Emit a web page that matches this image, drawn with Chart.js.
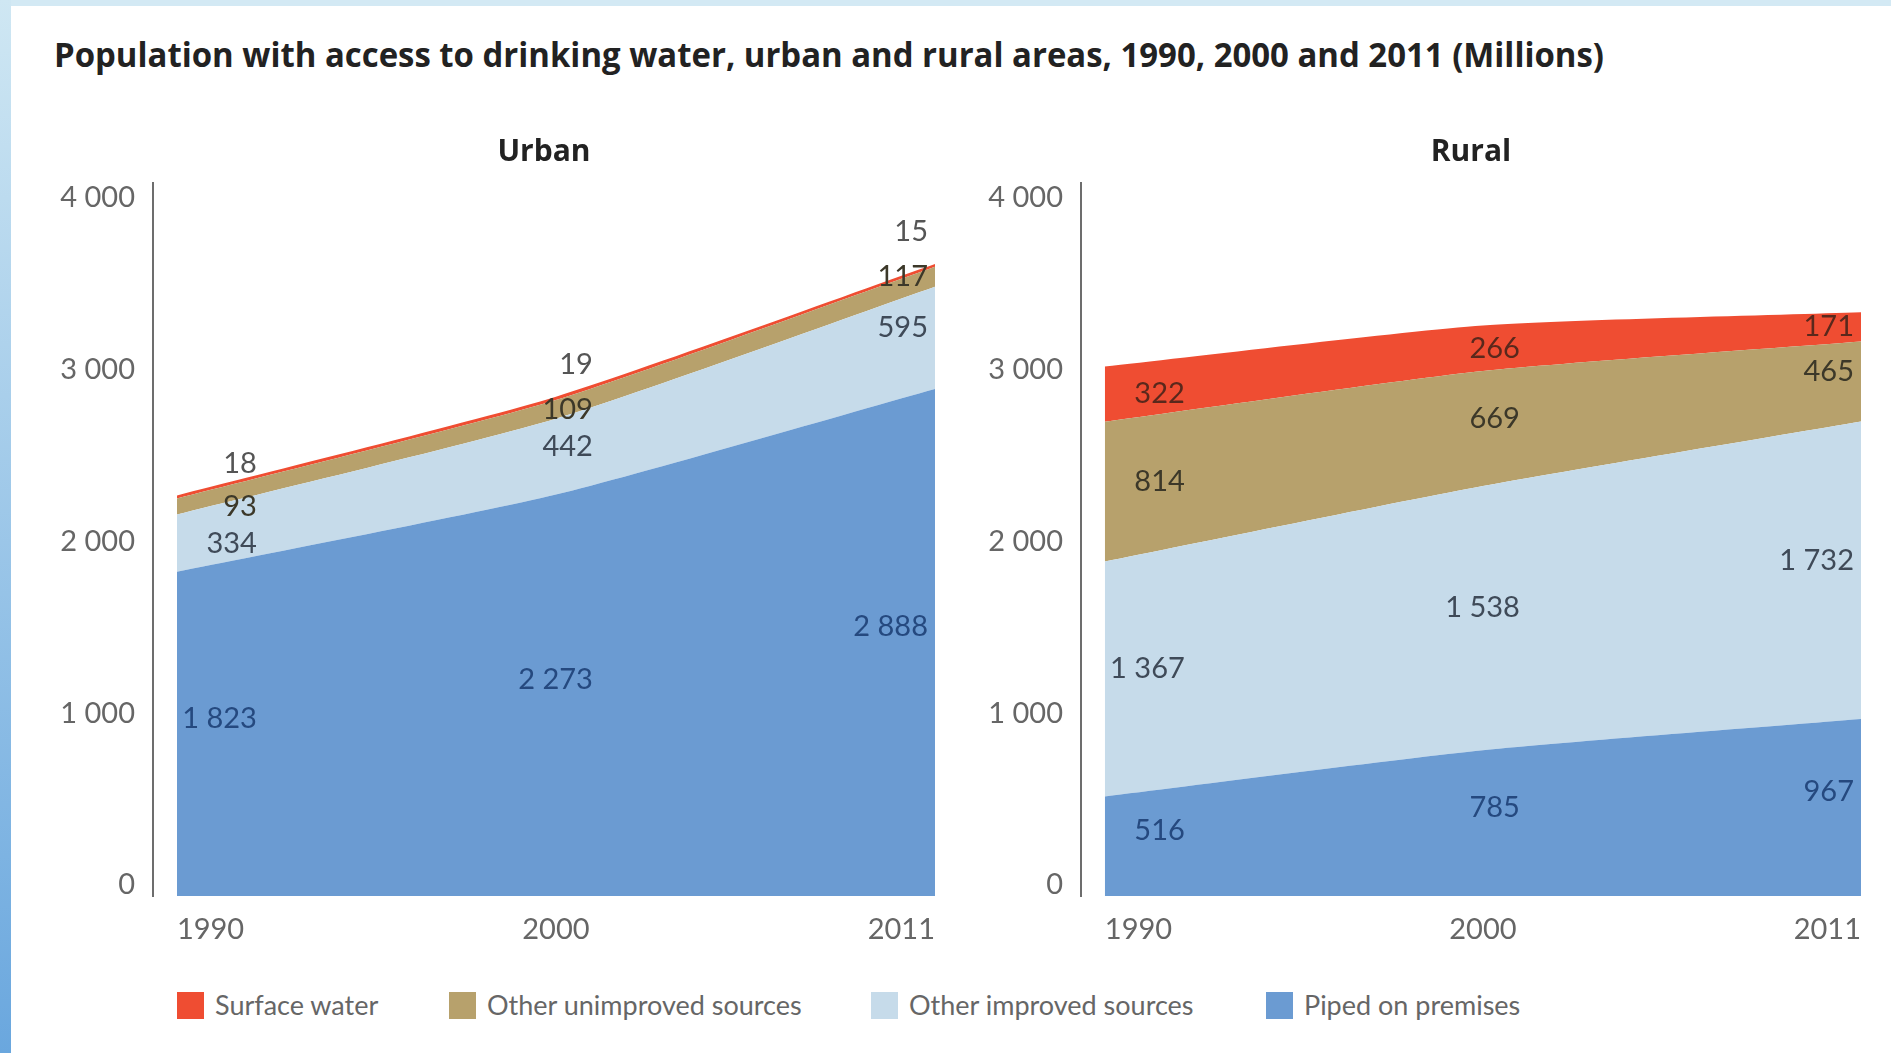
<!DOCTYPE html>
<html>
<head>
<meta charset="utf-8">
<script src="https://cdn.jsdelivr.net/npm/chart.js@4.4.1/dist/chart.umd.min.js"></script>
<style>
html, body { margin: 0; padding: 0; background: #fff; }
body { width: 1891px; height: 1053px; position: relative; overflow: hidden; font-family: Lato, sans-serif; }
#topbar { position: absolute; left: 0; top: 0; width: 1891px; height: 6px; background: #d3e9f4; }
#leftbar { position: absolute; left: 0; top: 0; width: 11px; height: 1053px; background: linear-gradient(#cfe7f3, #6aa7de); }
#title { position: absolute; left: 54px; top: 34px; font: 700 34px "Open Sans"; line-height: 40px; color: #222; white-space: nowrap; transform-origin: 0 0; }
canvas { position: absolute; top: 134px; }
#urban { left: 20px; }
#rural { left: 948px; }
.key { position: absolute; top: 992px; width: 27px; height: 27px; }
.keytext { position: absolute; top: 986px; font: 27px Lato; line-height: 38px; color: #666; white-space: nowrap; }
</style>
</head>
<body>
<div id="topbar"></div>
<div id="leftbar"></div>
<div id="title">Population with access to drinking water, urban and rural areas, 1990, 2000 and 2011 (Millions)</div>
<canvas id="urban" width="931" height="812"></canvas>
<canvas id="rural" width="929" height="812"></canvas>
<div id="legend"></div>
<script>
var years = ['1990', '2000', '2011'];
var seriesNames = ['Piped on premises', 'Other improved sources', 'Other unimproved sources', 'Surface water'];
var seriesColors = ['#6b9bd2', '#c6dbea', '#b7a16c', '#ef4d32'];
var labelColors = ['#25497f', '#3f4a58', '#3c3829', '#5a281c'];

// urban, millions
var urbanPiped = [1823, 2273, 2888];
var urbanImproved = [334, 442, 595];
var urbanUnimproved = [93, 109, 117];
var urbanSurface = [18, 19, 15];

// rural, millions
var ruralPiped = [516, 785, 967];
var ruralImproved = [1367, 1538, 1732];
var ruralUnimproved = [814, 669, 465];
var ruralSurface = [322, 266, 171];

var yTicks = [0, 1000, 2000, 3000, 4000];

function fmt(v) {
  return String(v).replace(/\B(?=(\d{3})+(?!\d))/g, ' ');
}

// value labels inside each band
var areaLabels = {
  id: 'areaLabels',
  afterDatasetsDraw: function(chart) {
    var ctx = chart.ctx;
    var y = chart.scales.y;
    var shift = [80, 37, -7];
    ctx.save();
    ctx.font = '29px Lato';
    ctx.textAlign = 'right';
    ctx.textBaseline = 'middle';
    chart.data.datasets.forEach(function(ds, i) {
      var meta = chart.getDatasetMeta(i);
      meta.data.forEach(function(pt, j) {
        var bottom = i == 0 ? y.getPixelForValue(0) : chart.getDatasetMeta(i - 1).data[j].y;
        var py = (pt.y + bottom) / 2;
        var color = labelColors[i];
        if (bottom - pt.y > 60) py -= 10;
        if (bottom - pt.y < 8) { py = pt.y - 32; color = '#555'; }
        ctx.fillStyle = color;
        ctx.fillText(fmt(ds.data[j].y), pt.x + shift[j], py);
      });
    });
    ctx.restore();
  }
};

function makeChart(id, title, parts) {
  var datasets = parts.map(function(vals, i) {
    return {
      label: seriesNames[i],
      data: vals.map(function(v, j) { return {x: j, y: v}; }),
      backgroundColor: seriesColors[i],
      borderWidth: 0,
      pointRadius: 0,
      tension: 0.2,
      fill: i == 0 ? 'start' : '-1'
    };
  });
  return new Chart(document.getElementById(id), {
    type: 'line',
    data: { datasets: datasets },
    plugins: [areaLabels],
    options: {
      responsive: false,
      animation: false,
      plugins: {
        legend: { display: false },
        tooltip: { enabled: false },
        title: {
          display: true,
          text: title,
          fullSize: false,
          color: '#222',
          font: { family: 'Open Sans', size: 30, weight: 'bold', lineHeight: 1.2 },
          padding: { top: 0, bottom: 13 }
        }
      },
      scales: {
        x: {
          type: 'linear',
          min: -0.063,
          max: 2,
          grid: { display: false, drawTicks: false },
          border: { display: false },
          afterBuildTicks: function(s) { s.ticks = years.map(function(y, i) { return {value: i}; }); },
          afterFit: function(s) { s.height = 50; },
          ticks: {
            align: 'inner',
            padding: 16,
            color: '#666',
            font: { family: 'Lato', size: 29 },
            callback: function(v) { return years[v]; }
          }
        },
        y: {
          stacked: true,
          min: -64,
          max: 4087,
          grid: { display: false, drawTicks: false },
          border: { display: true, color: '#6d6d6d', width: 2 },
          afterBuildTicks: function(s) { s.ticks = yTicks.map(function(v) { return {value: v}; }); },
          afterFit: function(s) { s.width = 133; },
          ticks: {
            padding: 18,
            color: '#666',
            font: { family: 'Lato', size: 29 },
            callback: function(v) { return fmt(v); }
          }
        }
      }
    }
  });
}

makeChart('urban', 'Urban', [urbanPiped, urbanImproved, urbanUnimproved, urbanSurface]);
makeChart('rural', 'Rural', [ruralPiped, ruralImproved, ruralUnimproved, ruralSurface]);

// legend, top series first
var legendLeft = [1266, 871, 449, 177];
var legend = document.getElementById('legend');
for (var i = seriesNames.length - 1; i >= 0; i--) {
  var sq = document.createElement('div');
  sq.className = 'key';
  sq.style.left = legendLeft[i] + 'px';
  sq.style.background = seriesColors[i];
  legend.appendChild(sq);
  var tx = document.createElement('div');
  tx.className = 'keytext';
  tx.style.left = (legendLeft[i] + 38) + 'px';
  tx.textContent = seriesNames[i];
  legend.appendChild(tx);
}

// squeeze the heading to the source width
var t = document.getElementById('title');
t.style.transform = 'scaleX(' + (1550 / t.getBoundingClientRect().width) + ')';
</script>
</body>
</html>
